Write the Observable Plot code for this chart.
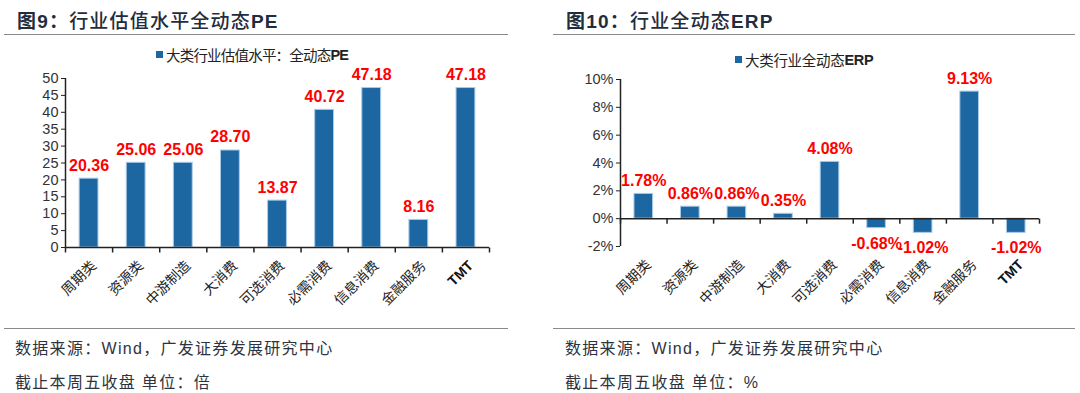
<!DOCTYPE html>
<html>
<head>
<meta charset="utf-8">
<script src="https://cdn.jsdelivr.net/npm/d3@7"></script>
<script src="https://cdn.jsdelivr.net/npm/@observablehq/plot@0.6"></script>
<style>
  body { margin: 0; background: #fff; }
  #root { position: relative; width: 1080px; height: 393px; background: #fff; overflow: hidden;
          font-family: "Liberation Sans", "Noto Sans CJK SC", sans-serif; }
  .title { position: absolute; top: 6px; font-size: 19px; color: #1f2d3d; letter-spacing: 1.2px; white-space: nowrap; font-weight: 500; }
  .title b { font-weight: 700; }
  .rule { position: absolute; height: 0; border-top: 1.6px solid #8a8a8a; }
  .legend { position: absolute; font-size: 14.5px; color: #222; white-space: nowrap; display: flex; align-items: center; }
  .legend .sw { width: 7px; height: 7px; background: #1c66a2; margin-right: 3px; }
  .legend b { font-weight: 700; }
  .foot { position: absolute; font-size: 16px; color: #2e3340; letter-spacing: 1.3px; white-space: nowrap; }
  .chart { position: absolute; top: 60px; }
</style>
</head>
<body>
<div id="root">
  <div class="title" style="left:17px"><b>图9：</b>行业估值水平全动态<b>PE</b></div>
  <div class="title" style="left:566px"><b>图10：</b>行业全动态<b>ERP</b></div>
  <div class="rule" style="left:4px;width:504px;top:34px"></div>
  <div class="rule" style="left:553px;width:522px;top:34px"></div>
  <div class="legend" style="left:156px;top:44px;letter-spacing:-0.8px"><span class="sw"></span>大类行业估值水平：全动态<b>PE</b></div>
  <div class="legend" style="left:735px;top:49px;letter-spacing:-0.3px"><span class="sw"></span>大类行业全动态<b>ERP</b></div>
  <div id="c1" class="chart" style="left:0px"></div>
  <div id="c2" class="chart" style="left:540px"></div>
  <div class="rule" style="left:4px;width:504px;top:328px"></div>
  <div class="rule" style="left:553px;width:522px;top:328px"></div>
  <div class="foot" style="left:15px;top:335px">数据来源：Wind，广发证券发展研究中心</div>
  <div class="foot" style="left:15px;top:369px">截止本周五收盘 单位：倍</div>
  <div class="foot" style="left:565px;top:335px">数据来源：Wind，广发证券发展研究中心</div>
  <div class="foot" style="left:565px;top:369px">截止本周五收盘 单位：%</div>
</div>
<script>
// ---- data ----
const categories = ["周期类", "资源类", "中游制造", "大消费", "可选消费", "必需消费", "信息消费", "金融服务", "TMT"];
const peValues = [20.36, 25.06, 25.06, 28.70, 13.87, 40.72, 47.18, 8.16, 47.18];
const erpValues = [1.78, 0.86, 0.86, 0.35, 4.08, -0.68, -1.02, 9.13, -1.02];
const peTicks = [0, 5, 10, 15, 20, 25, 30, 35, 40, 45, 50];
const erpTicks = [-2, 0, 2, 4, 6, 8, 10];

const barColor = "#1c66a2";
const numFont = "'Liberation Sans Narrow', 'Liberation Sans', sans-serif";
const latinCjk = "'Liberation Sans', 'Noto Sans CJK SC', sans-serif";
const tickDown = { draw(ctx) { ctx.moveTo(0, 0); ctx.lineTo(0, 5); } };

function makeChart(values, yDomain, yTicks, fmtTick, fmtLabel, margins) {
  const rows = values.map((v, i) => ({ i, cat: categories[i], v }));
  const bounds = d3.range(categories.length + 1);
  const labelOpts = { x: d => d.i + 0.5, frameAnchor: "bottom", text: "cat", rotate: -45, textAnchor: "end", dx: 8, dy: 19, fontSize: 14 };
  return Plot.plot({
    width: 540,
    height: 260,
    ...margins,
    style: { fontFamily: latinCjk, fontSize: "13px", color: "#333", background: "transparent", overflow: "visible", letterSpacing: "0px" },
    x: { domain: [0, categories.length], axis: null },
    y: { domain: yDomain, axis: null },
    marks: [
      Plot.rect(rows, { x1: d => d.i + 0.3, x2: d => d.i + 0.7, y1: 0, y2: "v", fill: barColor, stroke: "#a8cbe9", strokeWidth: 1 }),
      Plot.axisY({ ticks: yTicks, tickFormat: fmtTick, tickSize: 4, tickPadding: 3, fontSize: 14.5, fontFamily: numFont, stroke: "#222", fill: "#333", label: null }),
      Plot.ruleX([0], { stroke: "#222", strokeWidth: 1.5 }),
      Plot.ruleY([0], { stroke: "#222", strokeWidth: 1.5 }),
      Plot.dot(bounds, { x: d => d, y: 0, symbol: tickDown, fill: "none", stroke: "#222", strokeWidth: 1.5 }),
      Plot.text(rows.filter(d => d.v >= 0), { x: d => d.i + 0.5, y: "v", text: d => fmtLabel(d.v), lineAnchor: "bottom", dy: -8, fill: "#ff0000", fontWeight: "bold", fontSize: 16, fontFamily: numFont }),
      Plot.text(rows.filter(d => d.v < 0), { x: d => d.i + 0.5, y: "v", text: d => fmtLabel(d.v), lineAnchor: "top", dy: 9, fill: "#ff0000", fontWeight: "bold", fontSize: 16, fontFamily: numFont }),
      Plot.text(rows.filter(d => d.cat !== "TMT"), { ...labelOpts, fill: "#222", fontFamily: latinCjk }),
      Plot.text(rows.filter(d => d.cat === "TMT"), { ...labelOpts, fontWeight: "bold", fill: "#111", fontFamily: latinCjk })
    ]
  });
}

document.getElementById("c1").append(
  makeChart(peValues, [0, 50], peTicks, d => String(d), v => v.toFixed(2),
    { marginLeft: 65, marginRight: 51, marginTop: 18, marginBottom: 73 })
);
document.getElementById("c2").append(
  makeChart(erpValues, [-2, 10], erpTicks, d => d + "%", v => v.toFixed(2) + "%",
    { marginLeft: 80, marginRight: 41, marginTop: 19, marginBottom: 74 })
);
</script>
</body>
</html>
